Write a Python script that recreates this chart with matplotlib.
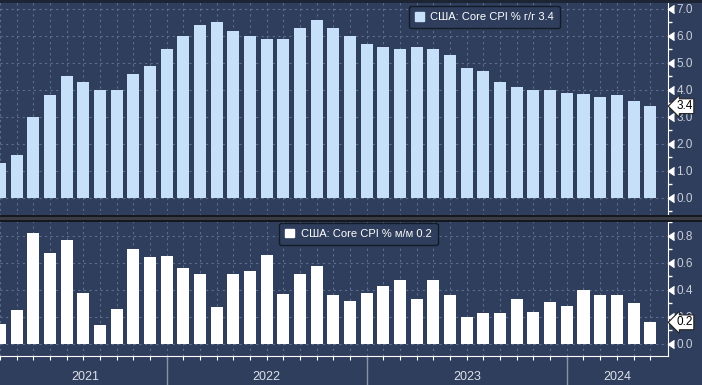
import numpy as np
import pandas as pd
import matplotlib
matplotlib.use("Agg")
from matplotlib import pyplot as plt
from matplotlib import transforms as mtrans
from matplotlib.patches import Patch, Rectangle

plt.rcParams['font.family'] = ['Liberation Sans', 'DejaVu Sans']

months = pd.period_range('2021-02', '2024-05', freq='M')
core_yoy = [1.3, 1.6, 3.0, 3.8, 4.5, 4.3, 4.0, 4.0, 4.6, 4.9, 5.5,
            6.0, 6.4, 6.5, 6.2, 6.0, 5.9, 5.9, 6.3, 6.6, 6.3, 6.0, 5.7,
            5.6, 5.5, 5.6, 5.5, 5.3, 4.8, 4.7, 4.3, 4.1, 4.0, 4.0, 3.9,
            3.85, 3.75, 3.8, 3.6, 3.4]
core_mom = [0.15, 0.25, 0.82, 0.67, 0.77, 0.38, 0.14, 0.26, 0.70, 0.64, 0.65,
            0.56, 0.52, 0.27, 0.52, 0.54, 0.66, 0.37, 0.52, 0.58, 0.36, 0.32, 0.38,
            0.43, 0.47, 0.33, 0.47, 0.36, 0.20, 0.23, 0.23, 0.33, 0.24, 0.31, 0.28,
            0.40, 0.36, 0.36, 0.30, 0.16]
label_yoy = "США: Core CPI % г/г 3.4"
label_mom = "США: Core CPI % м/м 0.2"

bg = '#2f3e5c'
grid_c = '#5d6f8e'
txt_c = '#c9ced8'
bar_top = '#c6e0fa'

x = np.arange(len(months))
xlim = (0.19, 40.07)

fig = plt.figure(figsize=(7.02, 3.85), dpi=100, facecolor=bg)
ax1 = fig.add_axes([0, 0.439, 0.9516, 0.561])
ax2 = fig.add_axes([0, 0.0753, 0.9516, 0.3506])


def style(ax, major, minor, fmt):
    ax.set_facecolor(bg)
    ax.set_xlim(*xlim)
    ax.set_xticks(x)
    ax.tick_params(axis='x', labelbottom=False)
    ax.yaxis.tick_right()
    ax.set_yticks(major)
    ax.set_yticks(minor, minor=True)
    ax.set_yticklabels([fmt % v for v in major])
    ax.tick_params(axis='y', which='major', length=0, pad=6, labelsize=8.5, labelcolor=txt_c)
    ax.tick_params(axis='y', which='minor', length=3, color='white', width=1)
    for s in ['top', 'left', 'bottom']:
        ax.spines[s].set_visible(False)
    ax.spines['right'].set_color('white')
    ax.grid(True, which='major', color=grid_c, linestyle=(0, (2, 3)), linewidth=0.8)
    ax.set_axisbelow(True)
    tr = mtrans.blended_transform_factory(ax.transAxes, ax.transData)
    ax.plot(np.ones(len(major)), major, linestyle='none', marker=4, markersize=6,
            color='white', transform=tr, clip_on=False)


# top panel: y/y
ax1.bar(x, core_yoy, width=0.72, color=bar_top, zorder=2)
ax1.set_ylim(-0.667, 7.333)
style(ax1, np.arange(0, 7.1, 1.0), np.arange(-0.5, 7.3, 0.5), '%.1f')
ax1.tick_params(axis='x', length=0)

# bottom panel: m/m
ax2.bar(x, core_mom, width=0.72, color='white', zorder=2)
ax2.set_ylim(-0.089, 0.909)
style(ax2, np.arange(0, 0.81, 0.2), np.arange(-0.0, 0.91, 0.1), '%.1f')
ax2.spines['bottom'].set_visible(True)
ax2.spines['bottom'].set_color('white')
ax2.tick_params(axis='x', length=3, color='white', direction='out')

# value tags
for ax, vals in [(ax1, core_yoy), (ax2, core_mom)]:
    tr = mtrans.blended_transform_factory(ax.transAxes, ax.transData)
    ax.text(1.012, vals[-1], '%.1f' % vals[-1], transform=tr, fontsize=8.5, color='black',
            va='center', ha='left', zorder=10, clip_on=False,
            bbox=dict(boxstyle='larrow,pad=0.12', fc='white', ec='#222222', lw=0.8))

# year separators and labels
dec_idx = [i for i, m in enumerate(months) if m.month == 12]
tr = mtrans.blended_transform_factory(ax2.transData, ax2.transAxes)
for d in dec_idx:
    ax2.plot([d, d], [0, -0.25], color='#8a93a6', lw=1, transform=tr, clip_on=False)
edges = [xlim[0]] + dec_idx + [xlim[1]]
years = sorted(set(m.year for m in months))
for yr, a, b in zip(years, edges[:-1], edges[1:]):
    ax2.text((a + b) / 2, -0.153, str(yr), transform=tr, ha='center', va='center',
             fontsize=9, color='#dde1e8')

# legends
leg1 = ax1.legend([Patch(color=bar_top)], [label_yoy], loc='upper left',
                  bbox_to_anchor=(0.612, 0.972), fontsize=8, labelcolor='white',
                  handlelength=0.8, handleheight=0.8, handletextpad=0.6,
                  borderpad=0.55, borderaxespad=0, facecolor=bg,
                  edgecolor='#141b28', framealpha=1)
leg2 = ax2.legend([Patch(color='white')], [label_mom], loc='upper left',
                  bbox_to_anchor=(0.4177, 0.987), fontsize=8, labelcolor='white',
                  handlelength=0.8, handleheight=0.8, handletextpad=0.6,
                  borderpad=0.55, borderaxespad=0, facecolor=bg,
                  edgecolor='#141b28', framealpha=1)
for lg in (leg1, leg2):
    lg.get_frame().set_linewidth(1.0)

# panel separator and top strip
fig.patches.append(Rectangle((0, 0.426), 1, 0.013, transform=fig.transFigure,
                             fc='#3a3d44', ec='none', zorder=5))
fig.patches.append(Rectangle((0, 0.4245), 1, 0.003, transform=fig.transFigure,
                             fc='#15181e', ec='none', zorder=5))
fig.patches.append(Rectangle((0, 0.4375), 1, 0.003, transform=fig.transFigure,
                             fc='#15181e', ec='none', zorder=5))
fig.patches.append(Rectangle((0, 0.992), 1, 0.008, transform=fig.transFigure,
                             fc='#1d2433', ec='none', zorder=5))

fig.savefig("out.png", dpi=100, facecolor=bg)
